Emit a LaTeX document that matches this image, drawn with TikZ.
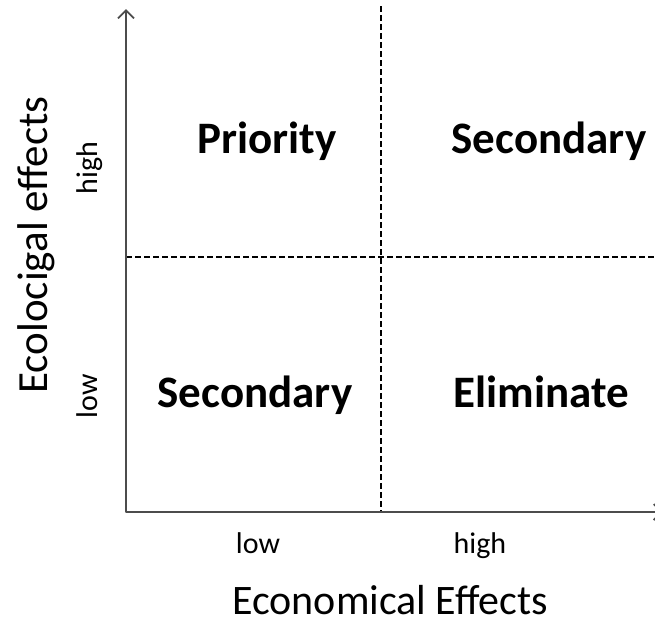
\documentclass[tikz,border=0pt]{standalone}
\usepackage{fontspec}
\setmainfont{Carlito}
\usetikzlibrary{arrows.meta}
\tikzset{
  axis/.style={draw=black!70,line width=1.8pt,line join=round,{Straight Barb[length=8pt,width=16pt]}-{Straight Barb[length=8pt,width=16pt]}},
  divider/.style={draw=black,line width=2.4pt,dash pattern=on 6pt off 3pt},
  quadrant/.style={inner sep=0pt,anchor=base,font=\fontsize{45}{54}\selectfont\bfseries},
  tick/.style={inner sep=0pt,anchor=base,font=\fontsize{30}{36}\selectfont},
  title/.style={inner sep=0pt,anchor=base,font=\fontsize{42}{50}\selectfont}
}
\begin{document}
\begin{tikzpicture}[x=1pt,y=-1pt]
  \useasboundingbox (0,0) rectangle (655,625);
  \coordinate (ytip) at (126,9);
  \coordinate (origin) at (126,512);
  \coordinate (xtip) at (663,512);
  \coordinate (vtop) at (381,6);
  \coordinate (vbot) at (381,512);
  \coordinate (hleft) at (126,257);
  \coordinate (hright) at (655,257);
  \draw[divider] (vtop) -- (vbot);
  \draw[divider] (hleft) -- (hright);
  \draw[axis] (ytip) -- (origin) -- (xtip);
  \draw
    (267,153) node[quadrant] (priority){Priority}
    (549,153) node[quadrant] (secondaryhigh){Secondary}
    (255,407) node[quadrant] (secondarylow){Secondary}
    (541,407) node[quadrant] (eliminate){Eliminate};
  \draw
    (258,553) node[tick] (xlow){low}
    (480,553) node[tick] (xhigh){high}
    (97,168) node[tick,rotate=90] (yhigh){high}
    (97,396) node[tick,rotate=90] (ylow){low};
  \draw
    (390,614) node[title] (xtitle){Economical Effects}
    (47,245) node[title,font=\fontsize{43}{52}\selectfont,rotate=90] (ytitle){Ecolocigal effects};
\end{tikzpicture}
\end{document}
